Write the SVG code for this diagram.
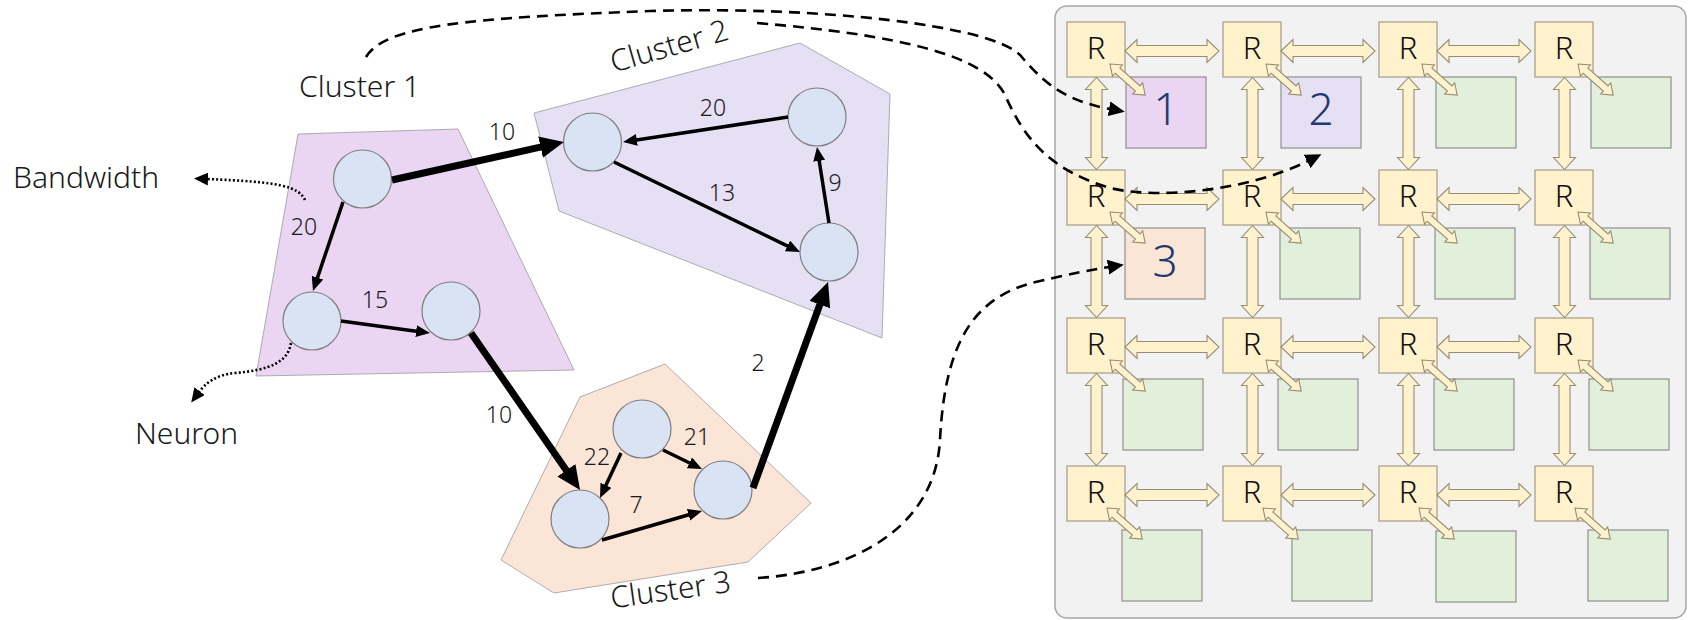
<svg xmlns="http://www.w3.org/2000/svg" xmlns:xlink="http://www.w3.org/1999/xlink" width="1689" height="620" viewBox="0 0 1689 620">
  <style>
    text { font-family: "Noto Sans", "Liberation Sans", sans-serif; fill: #1a1a1a; font-weight: 300; }
    .big { font-size: 30px; }
    .w { font-size: 23px; text-anchor: middle; }
    .rt { font-size: 31px; text-anchor: middle; fill: #111; }
    .pid { font-size: 44px; text-anchor: middle; fill: #1f3a70; }
    .neuron { fill: #dae3f3; stroke: #7f7f7f; stroke-width: 1.2; }
    .cl { stroke: #9a9a9a; stroke-width: 0.8; }
    .router { fill: #fff2cc; stroke: #a39c86; stroke-width: 1.2; }
    .pe { fill: #e2efda; stroke: #8f8f8f; stroke-width: 1.2; }
    .link { fill: #fff2cc; stroke: #958d74; stroke-width: 1.1; }
    .thin { stroke: #000; stroke-width: 3.5; fill: none; marker-end: url(#hThin); }
    .thick { stroke: #000; stroke-width: 7; fill: none; marker-end: url(#hThick); }
    .dot { stroke: #000; stroke-width: 2.6; stroke-dasharray: 2 2.2; fill: none; marker-end: url(#hDot); }
    .dash { stroke: #000; stroke-width: 2.6; stroke-dasharray: 11 7; fill: none; marker-end: url(#hDash); }
  </style>
  <defs>
    <marker id="hThin" markerUnits="userSpaceOnUse" markerWidth="14" markerHeight="12" viewBox="0 0 14 12" refX="2" refY="6" orient="auto">
      <path d="M0,0 L14,6 L0,12 Z" fill="#000"/>
    </marker>
    <marker id="hThick" markerUnits="userSpaceOnUse" markerWidth="24" markerHeight="22" viewBox="0 0 24 22" refX="2" refY="11" orient="auto">
      <path d="M0,0 L24,11 L0,22 Z" fill="#000"/>
    </marker>
    <marker id="hDot" markerUnits="userSpaceOnUse" markerWidth="14" markerHeight="13" viewBox="0 0 14 13" refX="1" refY="6.5" orient="auto">
      <path d="M0,0 L14,6.5 L0,13 Z" fill="#000"/>
    </marker>
    <marker id="hDash" markerUnits="userSpaceOnUse" markerWidth="16" markerHeight="15" viewBox="0 0 16 15" refX="1" refY="7.5" orient="auto">
      <path d="M0,0 L16,7.5 L0,15 Z" fill="#000"/>
    </marker>
    <!-- mesh link shapes: horizontal, vertical, and router-to-core -->
    <path id="ha" class="link" d="M0,0 L12,-11.5 L12,-5.5 L82,-5.5 L82,-11.5 L94,0 L82,11.5 L82,5.5 L12,5.5 L12,11.5 Z"/>
    <path id="va" class="link" d="M0,0 L-11,12 L-5.5,12 L-5.5,80 L-11,80 L0,92 L11,80 L5.5,80 L5.5,12 L11,12 Z"/>
    <path id="da" class="link" d="M0,0 L10,-7.5 L10,-3.5 L37,-3.5 L37,-7.5 L47,0 L37,7.5 L37,3.5 L10,3.5 L10,7.5 Z"/>
    <rect id="rt" class="router" width="58" height="55"/>
  </defs>

  <rect width="1689" height="620" fill="#ffffff"/>

  <!-- ============ SNN graph ============ -->
  <g id="cluster1">
    <polygon class="cl" fill="#ead5f2" points="298,134 458,129 574,370 256,376"/>
    <text class="big" x="299" y="97">Cluster 1</text>
  </g>
  <g id="cluster2">
    <polygon class="cl" fill="#e6e0f5" points="534,113 800,43 890,94 882,338 559,211"/>
    <text class="big" x="672" y="56" text-anchor="middle" transform="rotate(-16 672 56)">Cluster 2</text>
  </g>
  <g id="cluster3">
    <polygon class="cl" fill="#fbe5d6" points="665,364 811,503 748,562 554,593 501,560 580,397"/>
    <text class="big" x="672" y="600" text-anchor="middle" transform="rotate(-8 672 600)">Cluster 3</text>
  </g>

  <g id="n1a"><circle class="neuron" cx="362.5" cy="179" r="29"/></g>
  <g id="n1b"><circle class="neuron" cx="312" cy="321" r="29"/></g>
  <g id="n1c"><circle class="neuron" cx="451" cy="311" r="29"/></g>
  <g id="n2a"><circle class="neuron" cx="592.5" cy="142" r="29"/></g>
  <g id="n2b"><circle class="neuron" cx="817" cy="117" r="29"/></g>
  <g id="n2c"><circle class="neuron" cx="829" cy="252" r="29"/></g>
  <g id="n3a"><circle class="neuron" cx="642" cy="429" r="29"/></g>
  <g id="n3b"><circle class="neuron" cx="580" cy="519" r="29"/></g>
  <g id="n3c"><circle class="neuron" cx="723" cy="490" r="29"/></g>

  <g id="synapses">
    <line class="thin" x1="343" y1="202" x2="316.8" y2="279.6"/>
    <line class="thin" x1="341" y1="321" x2="418.1" y2="331.4"/>
    <line class="thick" x1="392" y1="180" x2="542.5" y2="146.7"/>
    <line class="thin" x1="788" y1="117" x2="634.9" y2="140.2"/>
    <line class="thin" x1="614" y1="162" x2="789.2" y2="246.8"/>
    <line class="thin" x1="829" y1="223" x2="818.9" y2="158.9"/>
    <line class="thick" x1="753" y1="488" x2="820.5" y2="302.7"/>
    <line class="thick" x1="471" y1="333" x2="567.5" y2="471.9"/>
    <line class="thin" x1="621" y1="453" x2="605.1" y2="487.1"/>
    <line class="thin" x1="663" y1="450" x2="691.2" y2="463.7"/>
    <line class="thin" x1="602" y1="540" x2="690.5" y2="514.3"/>
  </g>

  <g id="weights">
    <text class="w" x="304" y="235">20</text>
    <text class="w" x="375" y="308">15</text>
    <text class="w" x="502" y="140">10</text>
    <text class="w" x="713" y="116">20</text>
    <text class="w" x="722" y="201">13</text>
    <text class="w" x="835" y="191">9</text>
    <text class="w" x="758" y="371">2</text>
    <text class="w" x="499" y="423">10</text>
    <text class="w" x="597" y="465">22</text>
    <text class="w" x="697" y="445">21</text>
    <text class="w" x="636" y="513">7</text>
  </g>

  <g id="legend">
    <text class="big" x="13" y="188">Bandwidth</text>
    <text class="big" x="135" y="444">Neuron</text>
    <path class="dot" d="M305,200 C298,186 280,182 207,179"/>
    <path class="dot" d="M291,343 C288,362 270,370 235,373 C215,375 205,384 199,392"/>
  </g>

  <!-- ============ NoC mesh ============ -->
  <rect id="chip" x="1055" y="6" width="631" height="612" rx="12" fill="#f2f2f2" stroke="#a6a6a6" stroke-width="1.5"/>

  <g id="cores">
    <g id="pe11"><rect class="pe" x="1126" y="77" width="80" height="71" style="fill:#ead5f2"/><text class="pid" x="1166" y="125">1</text></g>
    <g id="pe12"><rect class="pe" x="1281" y="77" width="80" height="71" style="fill:#e6e0f5"/><text class="pid" x="1321" y="125">2</text></g>
    <g id="pe13"><rect class="pe" x="1436" y="77" width="80" height="71"/></g>
    <g id="pe14"><rect class="pe" x="1591" y="77" width="80" height="71"/></g>
    <g id="pe21"><rect class="pe" x="1125" y="228" width="80" height="71" style="fill:#fbe5d6"/><text class="pid" x="1165" y="277">3</text></g>
    <g id="pe22"><rect class="pe" x="1280" y="228" width="80" height="71"/></g>
    <g id="pe23"><rect class="pe" x="1435" y="228" width="80" height="71"/></g>
    <g id="pe24"><rect class="pe" x="1590" y="228" width="80" height="71"/></g>
    <g id="pe31"><rect class="pe" x="1123" y="379" width="80" height="71"/></g>
    <g id="pe32"><rect class="pe" x="1278" y="379" width="80" height="71"/></g>
    <g id="pe33"><rect class="pe" x="1434" y="379" width="80" height="71"/></g>
    <g id="pe34"><rect class="pe" x="1589" y="379" width="80" height="71"/></g>
    <g id="pe41"><rect class="pe" x="1122" y="530" width="80" height="71"/></g>
    <g id="pe42"><rect class="pe" x="1292" y="530" width="80" height="71"/></g>
    <g id="pe43"><rect class="pe" x="1436" y="531" width="80" height="71"/></g>
    <g id="pe44"><rect class="pe" x="1588" y="530" width="80" height="71"/></g>
  </g>

  <g id="routers">
    <g id="r11"><use href="#rt" x="1067" y="22"/><text class="rt" x="1096" y="59">R</text></g>
    <g id="r12"><use href="#rt" x="1223" y="22"/><text class="rt" x="1252" y="59">R</text></g>
    <g id="r13"><use href="#rt" x="1379" y="22"/><text class="rt" x="1408" y="59">R</text></g>
    <g id="r14"><use href="#rt" x="1535" y="22"/><text class="rt" x="1564" y="59">R</text></g>
    <g id="r21"><use href="#rt" x="1067" y="170"/><text class="rt" x="1096" y="207">R</text></g>
    <g id="r22"><use href="#rt" x="1223" y="170"/><text class="rt" x="1252" y="207">R</text></g>
    <g id="r23"><use href="#rt" x="1379" y="170"/><text class="rt" x="1408" y="207">R</text></g>
    <g id="r24"><use href="#rt" x="1535" y="170"/><text class="rt" x="1564" y="207">R</text></g>
    <g id="r31"><use href="#rt" x="1067" y="318"/><text class="rt" x="1096" y="355">R</text></g>
    <g id="r32"><use href="#rt" x="1223" y="318"/><text class="rt" x="1252" y="355">R</text></g>
    <g id="r33"><use href="#rt" x="1379" y="318"/><text class="rt" x="1408" y="355">R</text></g>
    <g id="r34"><use href="#rt" x="1535" y="318"/><text class="rt" x="1564" y="355">R</text></g>
    <g id="r41"><use href="#rt" x="1067" y="466"/><text class="rt" x="1096" y="503">R</text></g>
    <g id="r42"><use href="#rt" x="1223" y="466"/><text class="rt" x="1252" y="503">R</text></g>
    <g id="r43"><use href="#rt" x="1379" y="466"/><text class="rt" x="1408" y="503">R</text></g>
    <g id="r44"><use href="#rt" x="1535" y="466"/><text class="rt" x="1564" y="503">R</text></g>
  </g>

  <g id="mesh-links">
    <!-- horizontal router links -->
    <use href="#ha" transform="translate(1125,51)"/>
    <use href="#ha" transform="translate(1281,51)"/>
    <use href="#ha" transform="translate(1437,51)"/>
    <use href="#ha" transform="translate(1125,199)"/>
    <use href="#ha" transform="translate(1281,199)"/>
    <use href="#ha" transform="translate(1437,199)"/>
    <use href="#ha" transform="translate(1125,347)"/>
    <use href="#ha" transform="translate(1281,347)"/>
    <use href="#ha" transform="translate(1437,347)"/>
    <use href="#ha" transform="translate(1125,495)"/>
    <use href="#ha" transform="translate(1281,495)"/>
    <use href="#ha" transform="translate(1437,495)"/>
    <!-- vertical router links -->
    <use href="#va" transform="translate(1096.5,77.5)"/>
    <use href="#va" transform="translate(1252.5,77.5)"/>
    <use href="#va" transform="translate(1408.5,77.5)"/>
    <use href="#va" transform="translate(1564.5,77.5)"/>
    <use href="#va" transform="translate(1096.5,225.5)"/>
    <use href="#va" transform="translate(1252.5,225.5)"/>
    <use href="#va" transform="translate(1408.5,225.5)"/>
    <use href="#va" transform="translate(1564.5,225.5)"/>
    <use href="#va" transform="translate(1096.5,373.5)"/>
    <use href="#va" transform="translate(1252.5,373.5)"/>
    <use href="#va" transform="translate(1408.5,373.5)"/>
    <use href="#va" transform="translate(1564.5,373.5)"/>
    <!-- router to core links -->
    <use href="#da" transform="translate(1110,64) rotate(41.5)"/>
    <use href="#da" transform="translate(1266,64) rotate(41.5)"/>
    <use href="#da" transform="translate(1422,64) rotate(41.5)"/>
    <use href="#da" transform="translate(1578,64) rotate(41.5)"/>
    <use href="#da" transform="translate(1110,212) rotate(41.5)"/>
    <use href="#da" transform="translate(1266,212) rotate(41.5)"/>
    <use href="#da" transform="translate(1422,212) rotate(41.5)"/>
    <use href="#da" transform="translate(1578,212) rotate(41.5)"/>
    <use href="#da" transform="translate(1110,360) rotate(41.5)"/>
    <use href="#da" transform="translate(1266,360) rotate(41.5)"/>
    <use href="#da" transform="translate(1422,360) rotate(41.5)"/>
    <use href="#da" transform="translate(1578,360) rotate(41.5)"/>
    <use href="#da" transform="translate(1107,508) rotate(41.5)"/>
    <use href="#da" transform="translate(1263,508) rotate(41.5)"/>
    <use href="#da" transform="translate(1419,508) rotate(41.5)"/>
    <use href="#da" transform="translate(1575,508) rotate(41.5)"/>
  </g>

  <!-- cluster-to-core mapping -->
  <g id="mapping">
    <path class="dash" d="M366,57 C385,25 470,18 650,11 C820,6 990,25 1020,55 C1040,78 1060,100 1110,109"/>
    <path class="dash" d="M757,23 C900,35 985,55 1005,95 C1025,140 1050,170 1110,188 C1160,200 1250,190 1308,161"/>
    <path class="dash" d="M758,578 C850,572 935,530 940,440 C945,340 975,295 1040,281 C1070,274 1090,270 1109,267"/>
  </g>
</svg>
